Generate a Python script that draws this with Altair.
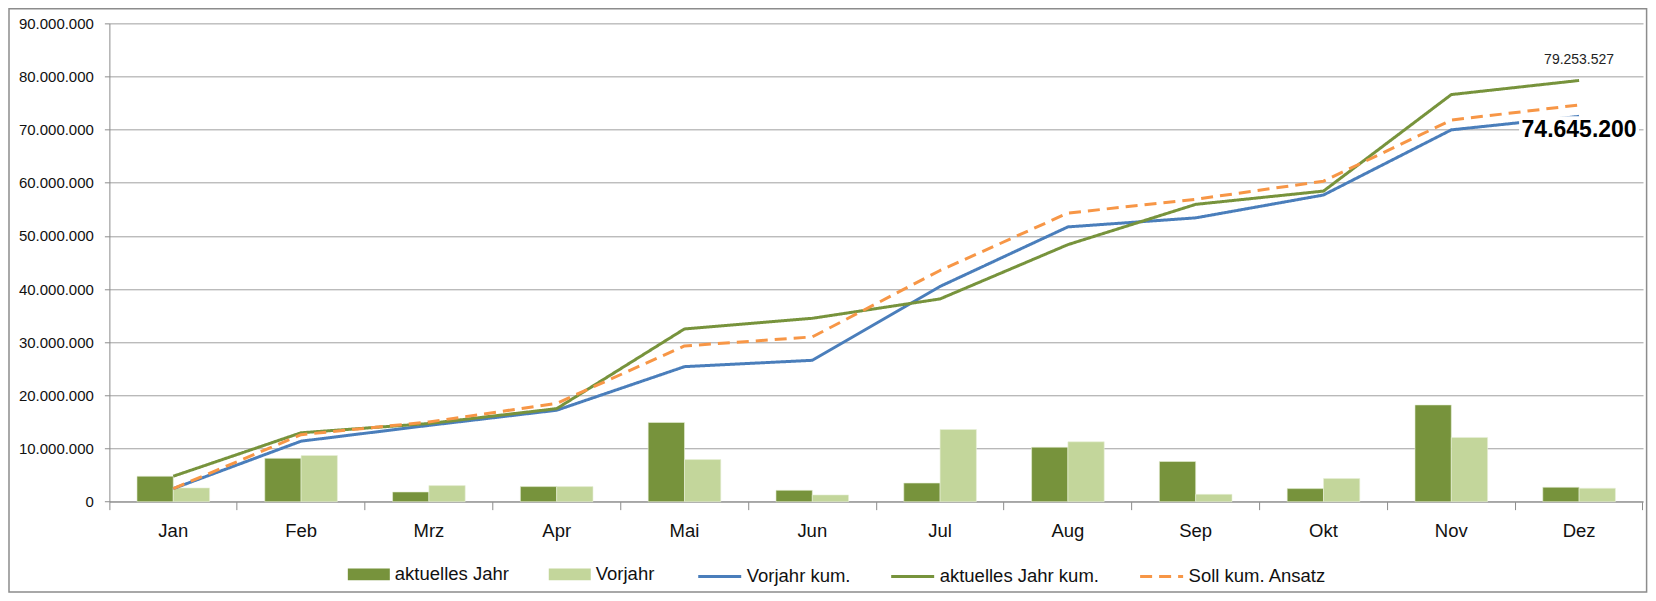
import altair as alt
import pandas as pd

monate = ["Jan", "Feb", "Mrz", "Apr", "Mai", "Jun", "Jul", "Aug", "Sep", "Okt", "Nov", "Dez"]
aktuelles_jahr = [4780000, 8150000, 1820000, 2830000, 14900000, 2140000, 3500000, 10250000, 7550000, 2450000, 18200000, 2710000]
vorjahr = [2580000, 8680000, 3020000, 2830000, 7920000, 1260000, 13580000, 11260000, 1380000, 4340000, 12080000, 2520000]
vorjahr_kum = [2450000, 11380000, 14350000, 17200000, 25400000, 26600000, 40500000, 51700000, 53400000, 57700000, 69960000, 72500000]
aktuell_kum = [4780000, 12960000, 14700000, 17500000, 32500000, 34500000, 38150000, 48360000, 55940000, 58440000, 76600000, 79253527]
soll_kum = [2450000, 12600000, 15000000, 18500000, 29300000, 31000000, 43500000, 54300000, 56900000, 60300000, 71800000, 74645200]

bar_series = ["aktuelles Jahr", "Vorjahr"]
line_series = ["Vorjahr kum.", "aktuelles Jahr kum.", "Soll kum. Ansatz"]
bar_colors = ["#77933C", "#C3D69B"]
line_colors = ["#4A7EBB", "#77933C", "#F79646"]

bars = pd.DataFrame(
    [{"Monat": m, "Serie": bar_series[0], "Wert": v} for m, v in zip(monate, aktuelles_jahr)]
    + [{"Monat": m, "Serie": bar_series[1], "Wert": v} for m, v in zip(monate, vorjahr)]
)
lines = pd.DataFrame(
    [{"Monat": m, "Linie": line_series[0], "Wert": v} for m, v in zip(monate, vorjahr_kum)]
    + [{"Monat": m, "Linie": line_series[1], "Wert": v} for m, v in zip(monate, aktuell_kum)]
    + [{"Monat": m, "Linie": line_series[2], "Wert": v} for m, v in zip(monate, soll_kum)]
)
label_top = pd.DataFrame({"Monat": [monate[-1]], "Wert": [aktuell_kum[-1]]})
label_soll = pd.DataFrame({"Monat": [monate[-1]], "Wert": [soll_kum[-1]]})

FONT = "Liberation Sans"
W, H = 1534, 478.4

x_enc = alt.X(
    "Monat:N",
    sort=monate,
    scale=alt.Scale(domain=monate, paddingInner=0, paddingOuter=0),
    axis=alt.Axis(
        title=None, labelAngle=0, bandPosition=1, tickExtra=True,
        tickSize=8, tickColor="#8c8c8c", domainColor="#8c8c8c", labelFontSize=18.5,
        labelFont=FONT, labelColor="#111111", labelPadding=12, grid=False,
    ),
)
y_enc = alt.Y(
    "Wert:Q",
    scale=alt.Scale(domain=[0, 90000000], nice=False),
    axis=alt.Axis(
        title=None, values=list(range(0, 90000001, 10000000)), format=",d",
        grid=True, gridColor="#A0A0A0", gridWidth=1, tickSize=5, tickColor="#8c8c8c",
        domainColor="#8c8c8c", labelFontSize=15, labelFont=FONT, labelColor="#111111",
        labelPadding=11,
    ),
)

bar_layer = alt.Chart(bars).mark_bar(stroke="#e8f0d8", strokeWidth=0.6).encode(
    x=x_enc,
    y=y_enc,
    xOffset=alt.XOffset("Serie:N", sort=bar_series,
                        scale=alt.Scale(domain=bar_series, paddingInner=0, paddingOuter=0.76)),
    color=alt.Color(
        "Serie:N", sort=bar_series,
        scale=alt.Scale(domain=bar_series, range=bar_colors),
        legend=alt.Legend(
            title=None, orient="none", legendX=238.5, legendY=530, direction="horizontal",
            symbolType="M-1,-0.28L1,-0.28L1,0.28L-1,0.28Z", symbolSize=1764,
            symbolStrokeWidth=0, labelFontSize=18.5, labelFont=FONT, labelColor="#111111",
            labelOffset=5, columnPadding=39, padding=0,
        ),
    ),
)

line_legend = alt.Legend(
    title=None, orient="none", legendX=587.5, legendY=530, direction="horizontal",
    symbolType="stroke", symbolSize=1849, symbolStrokeWidth=3,
    labelFontSize=18.5, labelFont=FONT, labelColor="#111111",
    labelOffset=4, columnPadding=34, padding=0,
)
line_layer = alt.Chart(lines).mark_line(strokeWidth=3, strokeJoin="round").encode(
    x=x_enc,
    y=y_enc,
    stroke=alt.Stroke("Linie:N", sort=line_series,
                      scale=alt.Scale(domain=line_series, range=line_colors), legend=line_legend),
    strokeDash=alt.StrokeDash("Linie:N", sort=line_series,
                              scale=alt.Scale(domain=line_series, range=[[1, 0], [1, 0], [12, 7]]),
                              legend=line_legend),
)

box_layer = alt.Chart(label_soll).mark_point(
    shape="M-1,-0.23L1,-0.23L1,0.23L-1,0.23Z", size=14400, filled=True,
    fill="white", fillOpacity=1, strokeWidth=0,
).encode(x=x_enc, y=y_enc, yOffset=alt.value(25))

text_soll = alt.Chart(label_soll).mark_text(
    dy=25, fontSize=23, fontWeight="bold", font=FONT, color="#000000", baseline="middle",
).encode(x=x_enc, y=y_enc, text=alt.Text("Wert:Q", format=",d"))

text_top = alt.Chart(label_top).mark_text(
    dy=-20, fontSize=14, font=FONT, color="#222222", baseline="middle",
).encode(x=x_enc, y=y_enc, text=alt.Text("Wert:Q", format=",d"))

frame = alt.Chart(pd.DataFrame({"f": [0]})).mark_rect(
    fillOpacity=0, stroke="#8c8c8c", strokeWidth=1.5,
).encode(x=alt.value(-100.4), x2=alt.value(1537.6), y=alt.value(-14.6), y2=alt.value(568.7))

chart = alt.layer(
    frame, bar_layer, line_layer, box_layer, text_soll, text_top
).resolve_scale(
    color="independent", stroke="independent", strokeDash="independent"
).properties(
    width=W, height=H,
    padding={"left": 101.4, "top": 15.3, "right": 5, "bottom": 91},
    autosize=alt.AutoSizeParams(type="none"),
).configure(
    locale={"number": {"decimal": ",", "thousands": ".", "grouping": [3], "currency": ["", " €"]}},
).configure_view(stroke=None)

chart.save("out.html", embed_options={"renderer": "svg", "actions": False})
